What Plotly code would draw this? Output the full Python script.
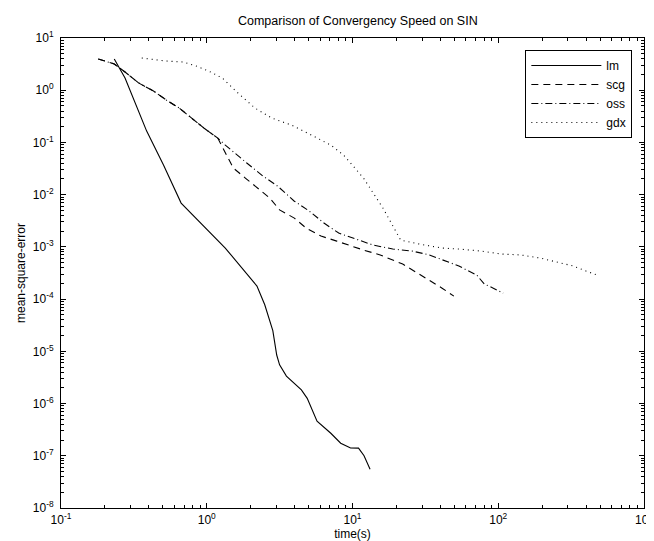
import plotly.graph_objects as go

# time (s) / mean-square-error
lm_t = [0.232, 0.275, 0.387, 0.505, 0.667, 1.34, 2.21, 2.5, 2.84, 3.02, 3.16, 3.52,
        4.46, 4.89, 5.71, 7.1, 8.3, 9.7, 11.0, 12.0, 13.2]
lm_mse = [3.96, 1.71, 0.165, 0.0369, 0.0069, 9.5e-4, 1.78e-4, 7.8e-5, 2.5e-5, 8.5e-6,
          5.5e-6, 3.35e-6, 1.82e-6, 1.26e-6, 4.6e-7, 2.7e-7, 1.74e-7, 1.41e-7, 1.4e-7,
          1.0e-7, 5.5e-8]

scg_t = [0.18, 0.232, 0.275, 0.342, 0.431, 0.528, 0.647, 0.78, 0.955, 1.19, 1.34, 1.52,
         1.84, 2.24, 2.71, 3.16, 3.99, 4.81, 6.08, 7.8, 9.7, 11.9, 15.5, 22.1, 27.9,
         33.7, 41.2, 49.6]
scg_mse = [3.96, 3.18, 2.23, 1.37, 0.966, 0.649, 0.456, 0.293, 0.189, 0.121, 0.0627,
           0.0324, 0.0208, 0.0134, 0.0086, 0.0051, 0.00356, 0.00229, 0.00161, 0.00129,
           0.00104, 8.7e-4, 7.0e-4, 4.7e-4, 3.15e-4, 2.3e-4, 1.62e-4, 1.14e-4]

oss_t = [0.18, 0.232, 0.275, 0.342, 0.431, 0.528, 0.647, 0.78, 0.955, 1.19, 1.34, 1.89,
         2.43, 3.06, 3.99, 5.05, 6.37, 8.04, 10.2, 13.9, 18.9, 25.8, 33.7, 41.2, 53.7,
         71, 80.4, 92.5, 108]
oss_mse = [3.96, 3.18, 2.23, 1.37, 0.966, 0.649, 0.456, 0.293, 0.189, 0.121, 0.089,
           0.040, 0.0227, 0.0146, 0.0075, 0.00486, 0.00286, 0.00184, 0.00148, 0.00108,
           9.1e-4, 8.3e-4, 7.0e-4, 5.6e-4, 4.3e-4, 2.9e-4, 1.94e-4, 1.62e-4, 1.30e-4]

gdx_t = [0.358, 0.528, 0.689, 0.843, 1.03, 1.28, 1.64, 2.14, 2.79, 3.81, 5.2, 7.1, 8.7,
         10.6, 11.9, 16.2, 19.5, 21.4, 28.8, 41.2, 53.7, 76.7, 105, 143, 195, 267, 327,
         406, 474]
gdx_mse = [4.14, 3.62, 3.47, 2.91, 2.33, 1.71, 0.88, 0.456, 0.293, 0.215, 0.139, 0.089,
           0.057, 0.0296, 0.0208, 0.0055, 0.0021, 0.00135, 0.00113, 9.5e-4, 9.1e-4,
           8.3e-4, 7.3e-4, 7.0e-4, 6.1e-4, 4.9e-4, 4.3e-4, 3.4e-4, 2.9e-4]

x_exps = [-1, 0, 1, 2, 3]
y_exps = [1, 0, -1, -2, -3, -4, -5, -6, -7, -8]

series = [
    ("lm", lm_t, lm_mse, "solid"),
    ("scg", scg_t, scg_mse, "7px,5px"),
    ("oss", oss_t, oss_mse, "7px,3px,1px,3px"),
    ("gdx", gdx_t, gdx_mse, "1px,4px"),
]

FONT = "Liberation Sans, Arial, sans-serif"

fig = go.Figure()
for name, t, mse, dash in series:
    fig.add_trace(go.Scatter(x=t, y=mse, mode="lines", name=name,
                             line=dict(color="black", width=1.1, dash=dash)))


def log_axis(exps, standoff):
    minor_vals = [k * 10.0 ** e for e in range(min(exps), max(exps)) for k in range(2, 10)]
    return dict(
        type="log",
        range=[min(exps), max(exps)],
        tickmode="array",
        tickvals=[10.0 ** e for e in exps],
        ticktext=[f"10<sup>{e}</sup>" for e in exps],
        ticks="inside", ticklen=5, tickwidth=1, tickcolor="black",
        minor=dict(tickmode="array", tickvals=minor_vals, ticks="inside",
                   ticklen=3, tickwidth=1, tickcolor="black", showgrid=False),
        showline=True, linecolor="black", linewidth=1, mirror="allticks",
        showgrid=False, zeroline=False,
        ticklabelstandoff=standoff, ticklabeloverflow="allow",
        tickfont=dict(size=12, color="black"),
    )


xaxis = log_axis(x_exps, 1)
xaxis["title"] = dict(text="time(s)", font=dict(size=12, color="black"), standoff=0)
yaxis = log_axis(y_exps, 4)
yaxis["title"] = dict(text="mean-square-error", font=dict(size=12, color="black"), standoff=4)

fig.update_layout(
    width=654, height=541,
    margin=dict(l=53, r=9, t=30, b=41),
    paper_bgcolor="white", plot_bgcolor="white",
    font=dict(family=FONT, size=12, color="black"),
    title=dict(text="Comparison of Convergency Speed on SIN", x=0.5349, xanchor="center",
               y=0.977, yanchor="middle", font=dict(size=12.5, color="black")),
    xaxis=xaxis, yaxis=yaxis,
    legend=dict(x=0.98, y=0.9745, xanchor="right", yanchor="top",
                bordercolor="black", borderwidth=1, bgcolor="white",
                font=dict(size=12, color="black"), itemwidth=70,
                tracegroupgap=0),
    showlegend=True,
)

fig.write_html("out.html")
